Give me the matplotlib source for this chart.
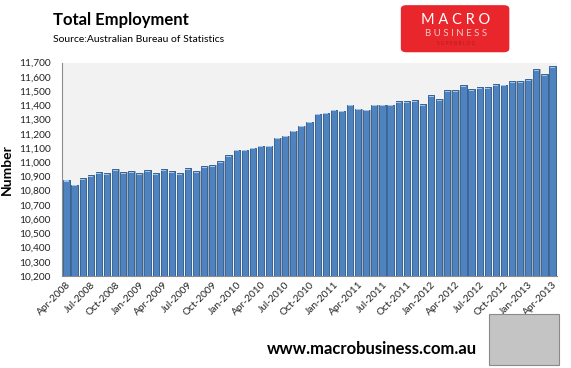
import numpy as np
import matplotlib.pyplot as plt
from matplotlib.patches import Rectangle, FancyBboxPatch

plt.rcParams['font.family'] = ['Lato', 'DejaVu Sans']

# monthly total employment ('000), Apr-2008 .. Apr-2013
months = ['Apr', 'May', 'Jun', 'Jul', 'Aug', 'Sep', 'Oct', 'Nov', 'Dec', 'Jan', 'Feb', 'Mar']
start_year = 2008
employment = [10874, 10839, 10886, 10907, 10929, 10922, 10950, 10929, 10936, 10922,
              10943, 10922, 10950, 10936, 10922, 10957, 10936, 10970, 10977, 11005,
              11047, 11088, 11088, 11102, 11117, 11115, 11172, 11186, 11220, 11256,
              11284, 11340, 11347, 11368, 11360, 11404, 11377, 11368, 11405, 11405,
              11405, 11427, 11427, 11435, 11406, 11470, 11442, 11505, 11505, 11540,
              11512, 11526, 11526, 11547, 11544, 11568, 11568, 11582, 11652, 11617,
              11673]

labels = []
for i in range(len(employment)):
    m = months[i % 12]
    yr = start_year + (i + 3) // 12
    labels.append(f"{m}-{yr}")

x = np.arange(len(employment))
vals = np.array(employment)

fig = plt.figure(figsize=(5.71, 3.68), dpi=100)
ax = fig.add_axes([0.1086, 0.25, 0.8669, 0.58])
ax.set_facecolor('#f2f2f2')

base = 10200
# shadow, body, highlight cap
ax.bar(x + 0.12, vals - base, bottom=base, width=0.86, color='#a9b0b8', zorder=2)
ax.bar(x, vals - base, bottom=base, width=0.76, color='#4f83c0',
       edgecolor='#2f5a8c', linewidth=0.6, zorder=3)
ax.bar(x, 8, bottom=vals - 10, width=0.62, color='#9cc6ef', zorder=4)

ax.set_xlim(-0.55, len(employment) - 0.45)
ax.set_ylim(10200, 11700)
ax.set_yticks(np.arange(10200, 11701, 100))
ax.set_yticklabels([f"{v:,}" for v in range(10200, 11701, 100)], fontsize=7.3, color='#222222')
ax.set_xticks(x[::3])
ax.set_xticklabels(labels[::3], rotation=45, ha='right', rotation_mode='anchor', fontsize=7.3, color='#222222')
ax.tick_params(axis='both', length=0, pad=3)
ax.tick_params(axis='y', pad=8)

for s in ['top', 'right']:
    ax.spines[s].set_visible(False)
ax.spines['left'].set_color('#8c8c8c')
ax.spines['bottom'].set_color('#8c8c8c')

ax.set_ylabel('Number', fontsize=10, fontweight='bold')
ax.yaxis.set_label_coords(-0.1, 0.5)

fig.text(0.093, 0.945, 'Total Employment', fontsize=12, fontweight='bold', va='center', ha='left')
fig.text(0.093, 0.893, 'Source:Australian Bureau of Statistics', fontsize=7.5, va='center', ha='left')

# logo
fig.patches.append(FancyBboxPatch((0.702, 0.858), 0.19, 0.128, boxstyle='round,pad=0,rounding_size=0.01',
                                  transform=fig.transFigure, facecolor='#e8262b', edgecolor='none'))
fig.text(0.798, 0.945, 'M A C R O', fontsize=10.5, color='white', ha='center', va='center')
fig.text(0.798, 0.910, 'B U S I N E S S', fontsize=7, color='#f7c8c8', ha='center', va='center')
fig.text(0.798, 0.882, 'S U P E R B L O G', fontsize=3.5, color='#b01c20', ha='center', va='center')

fig.text(0.836, 0.052, 'www.macrobusiness.com.au', fontsize=12, fontweight='bold', ha='right', va='center')
fig.patches.append(Rectangle((0.856, 0.008), 0.123, 0.138, transform=fig.transFigure,
                             facecolor='#c4c4c4', edgecolor='#8a8a8a', linewidth=0.8))

fig.savefig('out.png', dpi=100)
